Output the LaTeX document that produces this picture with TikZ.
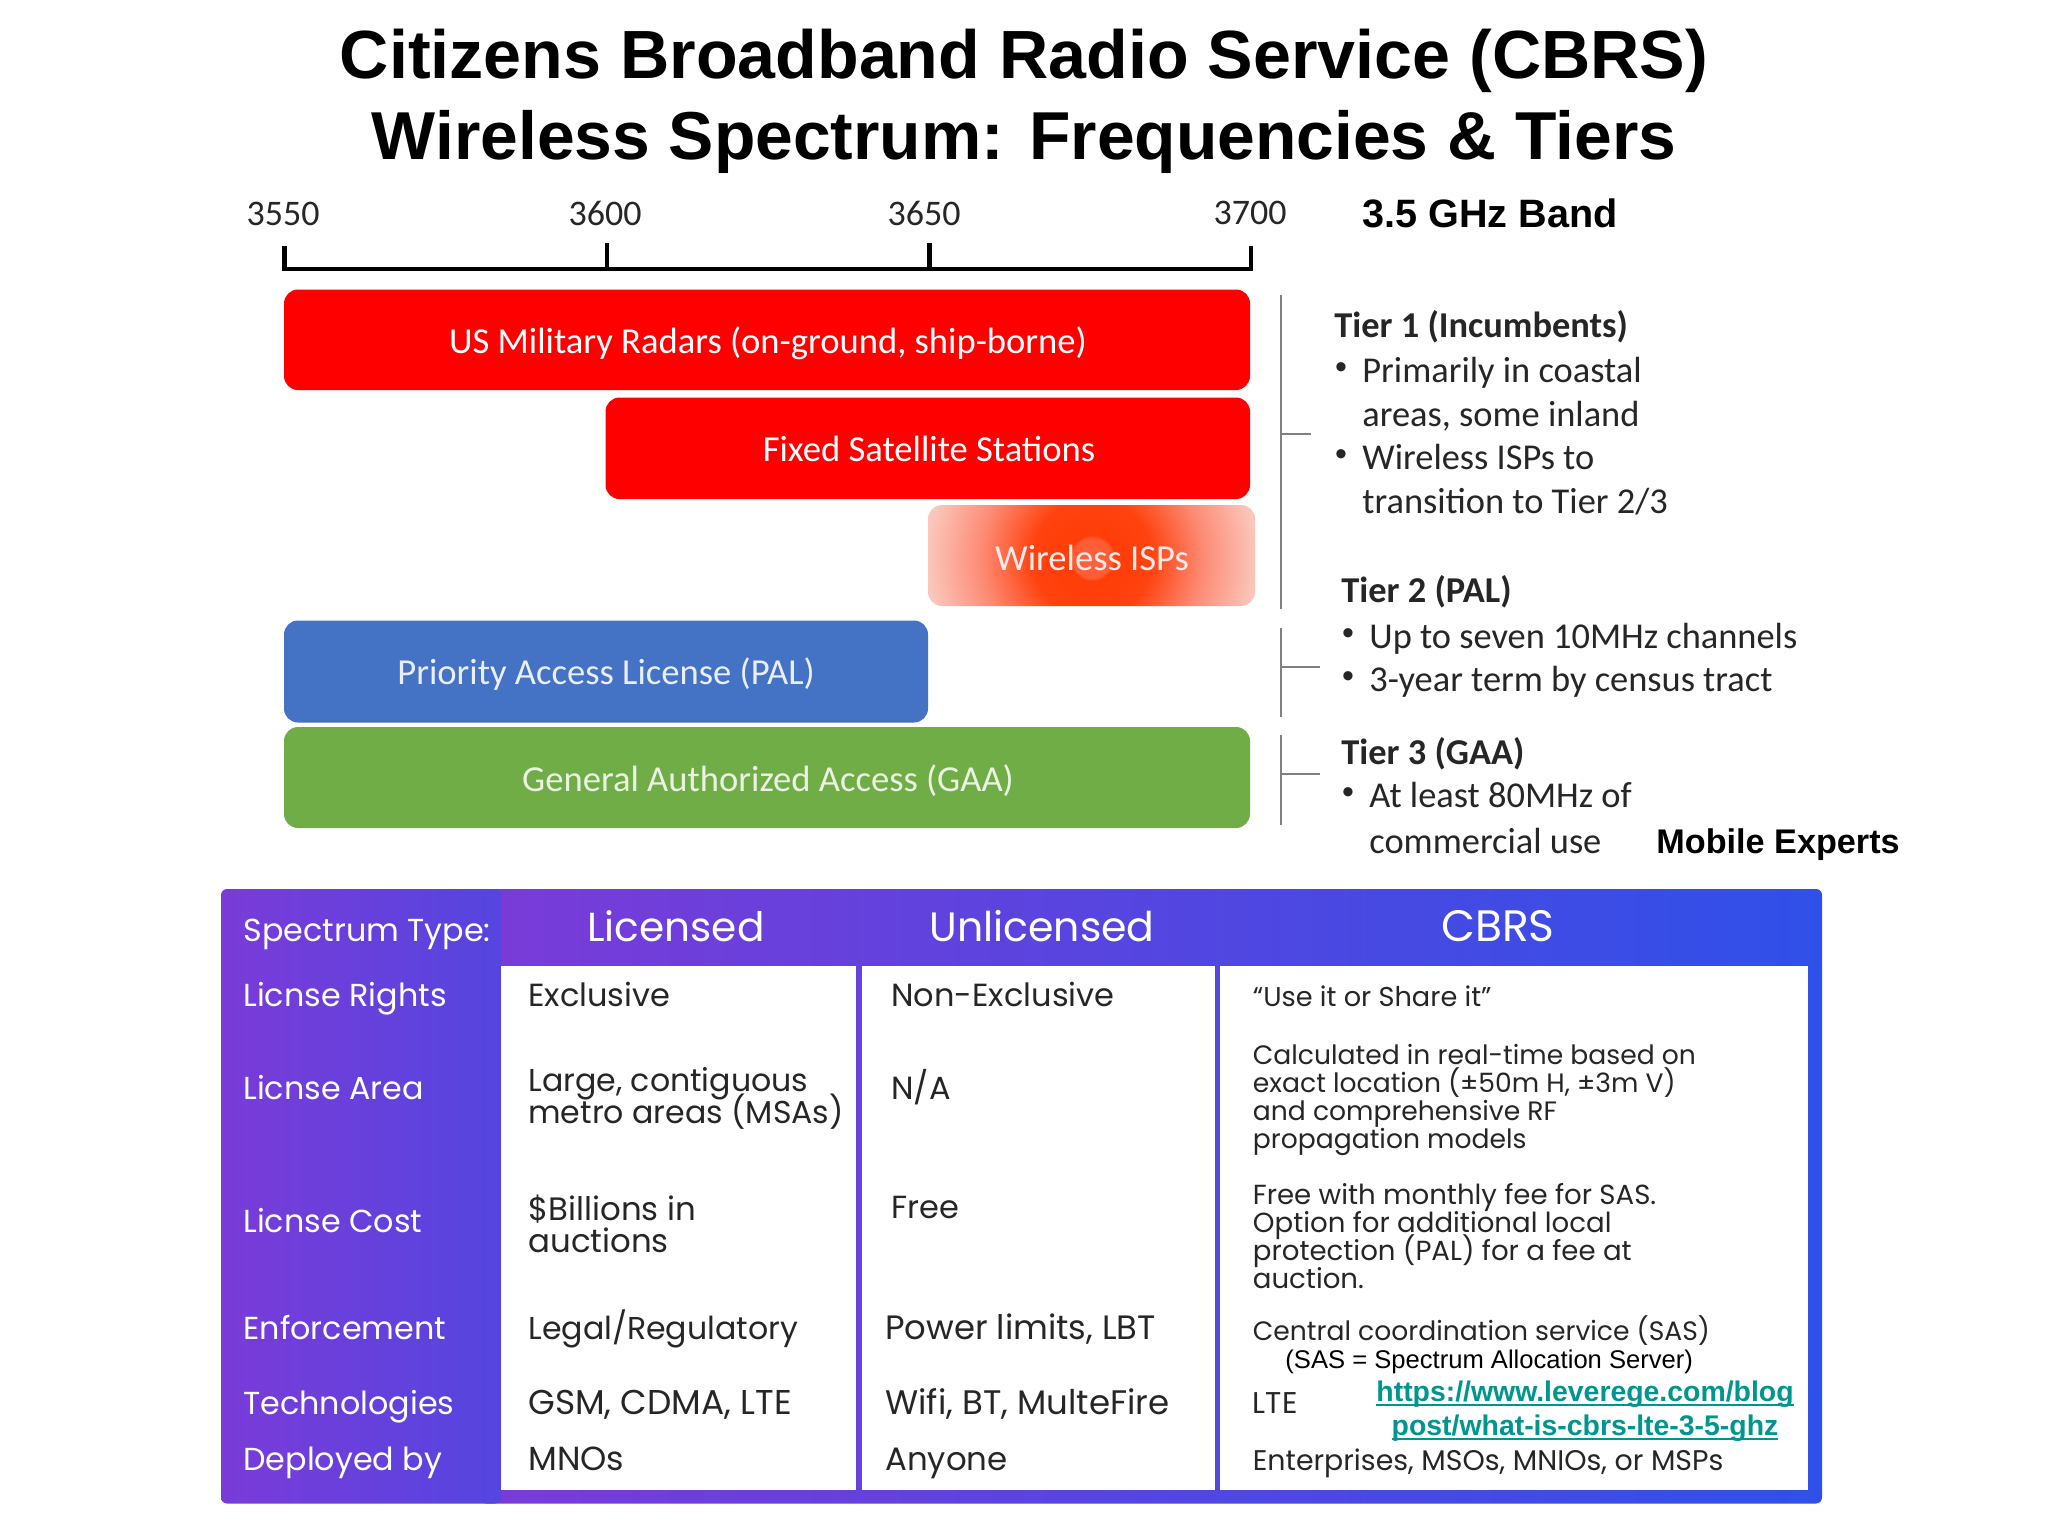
\documentclass[tikz,border=0pt]{standalone}
\usepackage{fontspec}
\setmainfont{Liberation Sans}
\newfontfamily\calib{Carlito}
\newfontfamily\mont{Poppins}
\definecolor{barred}{HTML}{FE0000}
\definecolor{barblue}{HTML}{4472C4}
\definecolor{bargreen}{HTML}{70AD47}
\definecolor{tierline}{HTML}{808080}
\definecolor{inktext}{HTML}{262626}
\definecolor{linkteal}{HTML}{00968F}
\definecolor{gradA}{HTML}{7A3BD8}
\definecolor{gradB}{HTML}{2F50E8}
\definecolor{gradC}{HTML}{5545DF}
\pgfdeclareradialshading{ispglow}{\pgfpoint{0bp}{0bp}}{rgb(0bp)=(1,0.38,0.24); rgb(3bp)=(1,0.36,0.2); rgb(3.5bp)=(1,0.24,0.03); rgb(9bp)=(1,0.26,0.06); rgb(16.7bp)=(0.99,0.54,0.45); rgb(25bp)=(0.985,0.78,0.74); rgb(50bp)=(0.985,0.78,0.74)}
\newsavebox{\ulbox}
\newcommand{\ulink}[1]{\sbox{\ulbox}{#1}\leavevmode\rlap{\rule[-2pt]{\wd\ulbox}{1pt}}\usebox{\ulbox}}
\tikzset{
  title/.style={font=\bfseries\fontsize{#1}{#1}\selectfont,text=black,inner sep=0pt},
  boldlab/.style={font=\bfseries\fontsize{#1}{#1}\selectfont,text=black,inner sep=0pt,anchor=west},
  tick/.style={font=\calib\fontsize{18}{18}\selectfont,text=inktext,inner sep=0pt},
  bar/.style={rounded corners=7pt},
  barlab/.style={font=\calib\fontsize{18.3}{18.3}\selectfont,text=white,inner sep=0pt,text height=12pt,text depth=0pt},
  axisline/.style={line width=2.3pt,draw=black,line cap=butt},
  bracket/.style={line width=1pt,draw=tierline},
  tierhead/.style={font=\calib\bfseries\fontsize{18.2}{18.2}\selectfont,text=inktext,inner sep=0pt,anchor=west,text height=12pt,text depth=0pt},
  tiertext/.style={font=\calib\fontsize{18.2}{18.2}\selectfont,text=inktext,inner sep=0pt,anchor=west,text height=12pt,text depth=0pt},
  tierdot/.style={font=\fontsize{17}{17}\selectfont,text=inktext,inner sep=0pt},
  rowhead/.style={font=\mont\fontsize{15.9}{15.9}\selectfont,text=white,inner sep=0pt,anchor=west,text height=11pt,text depth=3pt},
  colhead/.style={font=\mont\fontsize{#1}{#1}\selectfont,text=white,inner sep=0pt,text height=15pt,text depth=0pt},
  cella/.style={font=\mont\fontsize{#1}{16.3}\selectfont,text=inktext,inner sep=0pt,anchor=west,align=left},
  cellaone/.style={font=\mont\fontsize{#1}{16.3}\selectfont,text=inktext,inner sep=0pt,anchor=west,text height=11pt,text depth=3pt},
  cellb/.style={font=\mont\fontsize{#1}{13.9}\selectfont,text=inktext,inner sep=0pt,anchor=west,align=left},
  cellbone/.style={font=\mont\fontsize{#1}{13.9}\selectfont,text=inktext,inner sep=0pt,anchor=west,text height=10pt,text depth=3pt},
  sasnote/.style={font=\fontsize{12.8}{12.8}\selectfont,text=black,inner sep=0pt,anchor=west,text height=9pt,text depth=3pt},
  urltext/.style={font=\bfseries\fontsize{14.2}{14.2}\selectfont,text=linkteal,inner sep=0pt,text height=10pt,text depth=3pt},
}
\begin{document}
\begin{tikzpicture}[x=0.5pt,y=-0.5pt]
\lineskiplimit=-20pt\relax
\useasboundingbox (0,0) rectangle (2048,1536);
\fill[white] (0,0) rectangle (2048,1536);
% title
\node[title=34.1] (t1) at (1024,60.5) {Citizens Broadband Radio Service (CBRS)};
\node[title=33.9] (t2) at (1024,142) {Wireless Spectrum: Frequencies \& Tiers};
% axis
\node[tick] (f1) at (283,213.5) {3550};
\node[tick] (f2) at (605,213) {3600};
\node[tick] (f3) at (924,213) {3650};
\node[tick] (f4) at (1250,213) {3700};
\node[boldlab=19.8] (band) at (1362,213) {3.5 GHz Band};
\draw[axisline] (284.5,246) -- (284.5,269) -- (1251,269) -- (1251,246);
\draw[axisline] (607,243) -- (607,269);
\draw[axisline] (929.5,243) -- (929.5,269);
% bars
\fill[barred,bar] (284,289.5) rectangle (1250,390);
\fill[barred,bar] (605.5,397.5) rectangle (1250,499);
\begin{scope}
\clip[rounded corners=7pt] (928,505) rectangle (1255,606);
\shade[shading=ispglow] (927,393) rectangle (1257,723);
\end{scope}
\fill[barblue,bar] (284,620.5) rectangle (928,722.5);
\fill[bargreen,bar] (284,727) rectangle (1250,828);
\node[barlab] (b1) at (768,341) {US Military Radars (on-ground, ship-borne)};
\node[barlab] (b2) at (929,449) {Fixed Satellite Stations};
\node[barlab,text=white!92!red] (b3) at (1092,558) {Wireless ISPs};
\node[barlab,text=white!88!barblue] (b4) at (606,672) {Priority Access License (PAL)};
\node[barlab,text=white!85!bargreen] (b5) at (768,779) {General Authorized Access (GAA)};
% tier brackets
\draw[bracket] (1281,295) -- (1281,609);
\draw[bracket] (1281,434) -- (1311,434);
\draw[bracket] (1281,628) -- (1281,717);
\draw[bracket] (1281,667) -- (1320,667);
\draw[bracket] (1281,735) -- (1281,825);
\draw[bracket] (1281,773.5) -- (1320,773.5);
% tier text
\node[tierhead] (h1) at (1334,325) {Tier 1 (Incumbents)};
\node[tierdot] (k1) at (1341,371) {•};
\node[tiertext] (a1) at (1362,370) {Primarily in coastal};
\node[tiertext] (a2) at (1362,414) {areas, some inland};
\node[tierdot] (k2) at (1341,458) {•};
\node[tiertext] (a3) at (1362,457) {Wireless ISPs to};
\node[tiertext] (a4) at (1362,501) {transition to Tier 2/3};
\node[tierhead] (h2) at (1341,590) {Tier 2 (PAL)};
\node[tierdot] (k3) at (1348,637) {•};
\node[tiertext] (c1) at (1369,636) {Up to seven 10MHz channels};
\node[tierdot] (k4) at (1348,680) {•};
\node[tiertext] (c2) at (1369,679) {3-year term by census tract};
\node[tierhead] (h3) at (1341,752) {Tier 3 (GAA)};
\node[tierdot] (k5) at (1348,796) {•};
\node[tiertext] (d1) at (1369,795) {At least 80MHz of};
\node[tiertext] (d2) at (1369,841) {commercial use};
\node[boldlab=17.1] (me) at (1656,845) {Mobile Experts};
% table background
\shade[left color=gradA,right color=gradB,rounded corners=3pt] (480,889) rectangle (1822,1503.5);
\shade[left color=gradA,right color=gradC,rounded corners=3pt] (221,889) rectangle (501,1503.5);
\fill[white] (500.5,966) rectangle (856,1489.5);
\fill[white] (861.5,966) rectangle (1215,1489.5);
\fill[white] (1219.5,966) rectangle (1808,1489.5);
% headers
\node[rowhead] (r0) at (243,933.5) {Spectrum Type:};
\node[rowhead] (r1) at (243,998.5) {Licnse Rights};
\node[rowhead] (r2) at (243,1091.5) {Licnse Area};
\node[rowhead] (r3) at (243,1224.5) {Licnse Cost};
\node[rowhead] (r4) at (243,1331.5) {Enforcement};
\node[rowhead] (r5) at (243,1406.5) {Technologies};
\node[rowhead] (r6) at (243,1462.5) {Deployed by};
\node[colhead=20.3] (c-lic) at (676,926) {Licensed};
\node[colhead=20.5] (c-unl) at (1042,926) {Unlicensed};
\node[colhead=22] (c-cbr) at (1498,926) {CBRS};
% licensed
\node[cellaone=16] (l1) at (528,998.5) {Exclusive};
\node[cella=15.8] (l2) at (528,1098.5) {Large, contiguous\\metro areas (MSAs)};
\node[cella=16.2] (l3) at (528,1224) {\$Billions in\\auctions};
\node[cellaone=15.8] (l4) at (528,1331.5) {Legal/Regulatory};
\node[cellaone=17.2] (l5) at (528,1406.5) {GSM, CDMA, LTE};
\node[cellaone=16.7] (l6) at (528,1462.5) {MNOs};
% unlicensed
\node[cellaone=16] (u1) at (891,998.5) {Non-Exclusive};
\node[cellaone=16] (u2) at (891,1091.5) {N/A};
\node[cellaone=16] (u3) at (891,1210.5) {Free};
\node[cellaone=16.9] (u4) at (885,1331.5) {Power limits, LBT};
\node[cellaone=17] (u5) at (885,1406.5) {Wifi, BT, MulteFire};
\node[cellaone=16.2] (u6) at (885,1462.5) {Anyone};
% cbrs
\node[cellbone=13.6] (s1) at (1252.5,999) {“Use it or Share it”};
\node[cellb=13.3] (s2) at (1252.5,1100) {Calculated in real-time based on\\exact location (±50m H, ±3m V)\\and comprehensive RF\\propagation models};
\node[cellb=13.8] (s3) at (1252.5,1236) {Free with monthly fee for SAS.\\Option for additional local\\protection (PAL) for a fee at\\auction.};
\node[cellbone=13.3] (s4) at (1252.5,1333) {Central coordination service (SAS)};
\node[sasnote] (s5) at (1285,1362) {(SAS = Spectrum Allocation Server)};
\node[cellbone=15] (s6) at (1252.5,1406) {LTE};
\node[cellbone=14.2] (s7) at (1252.5,1463) {Enterprises, MSOs, MNIOs, or MSPs};
\node[urltext] (url1) at (1585,1394.5) {\ulink{https://www.leverege.com/blog}};
\node[urltext] (url2) at (1585,1428.5) {\ulink{post/what-is-cbrs-lte-3-5-ghz}};
\end{tikzpicture}
\end{document}
